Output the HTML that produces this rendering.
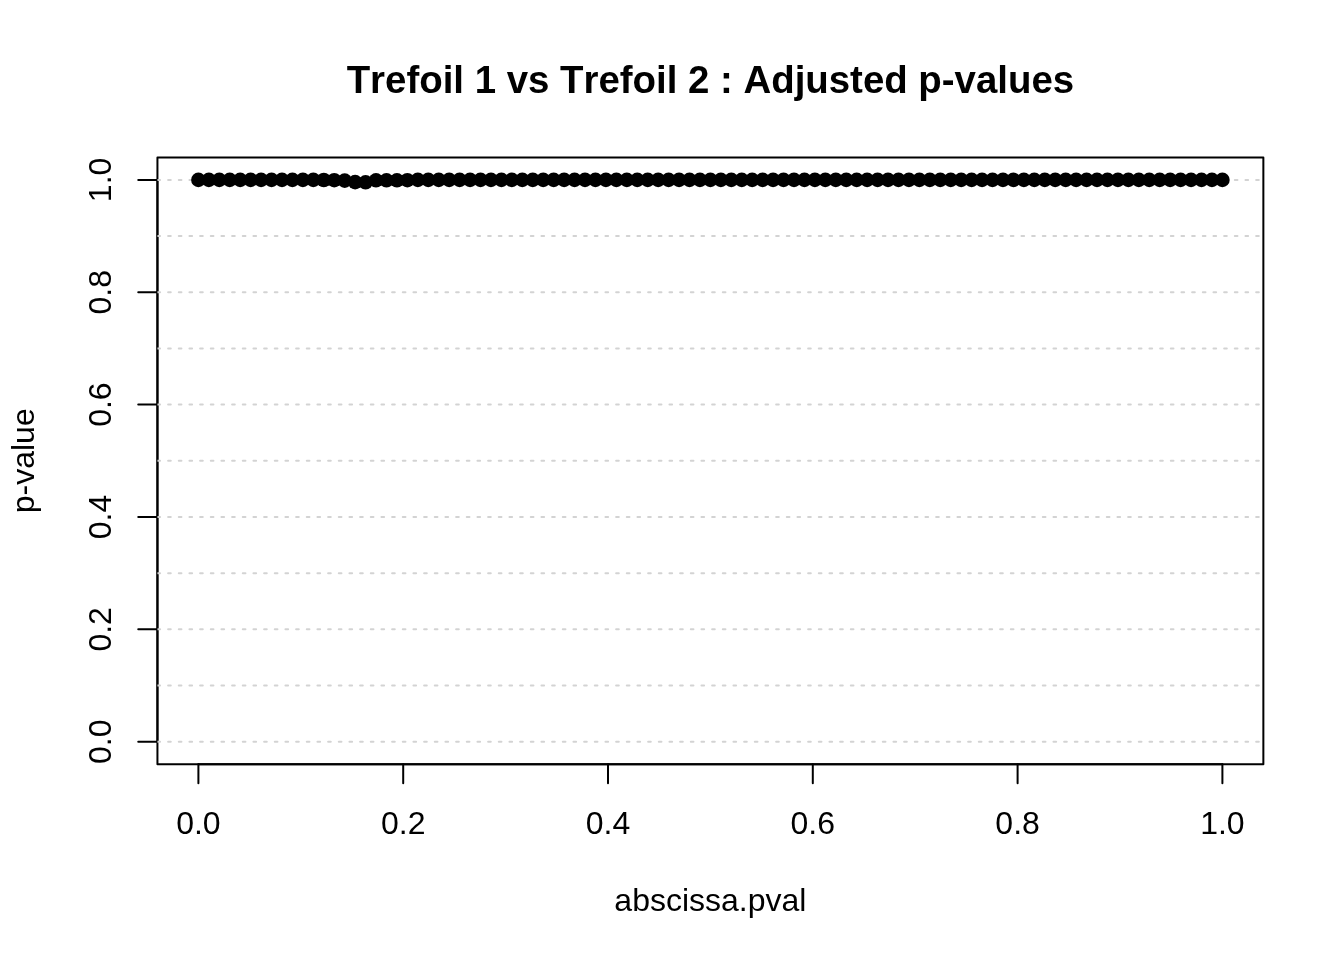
<!DOCTYPE html>
<html lang="en"><head><meta charset="utf-8"><title>Trefoil 1 vs Trefoil 2 : Adjusted p-values</title>
<style>
html,body{margin:0;padding:0;background:#fff;}
body{width:1344px;height:960px;overflow:hidden;}
svg{display:block;}
text{font-kerning:none;font-family:"Liberation Sans",Arial,Helvetica,sans-serif;fill:#000;}
.t{font-size:32px;}
.m{font-size:38.4px;font-weight:bold;}
</style></head><body>
<svg width="1344" height="960" viewBox="0 0 1344 960">
<rect width="1344" height="960" fill="#fff"/>

<g stroke="#000" stroke-width="2" fill="none" stroke-linecap="round" stroke-linejoin="round">
<path d="M198.40 764.16H1222.40"/>
<path d="M198.40 764.16v19.2"/>
<path d="M403.20 764.16v19.2"/>
<path d="M608.00 764.16v19.2"/>
<path d="M812.80 764.16v19.2"/>
<path d="M1017.60 764.16v19.2"/>
<path d="M1222.40 764.16v19.2"/>
<path d="M157.44 741.69V179.91"/>
<path d="M157.44 741.69h-19.2"/>
<path d="M157.44 629.33h-19.2"/>
<path d="M157.44 516.98h-19.2"/>
<path d="M157.44 404.62h-19.2"/>
<path d="M157.44 292.27h-19.2"/>
<path d="M157.44 179.91h-19.2"/>
<rect x="157.44" y="157.44" width="1105.92" height="606.72"/>
</g>
<clipPath id="pr"><rect x="157.44" y="157.44" width="1105.92" height="606.72"/></clipPath><g clip-path="url(#pr)" stroke="#d3d3d3" stroke-width="2" stroke-dasharray="2.667 8" stroke-linecap="round" fill="none">
<line x1="157.44" y1="741.69" x2="1263.36" y2="741.69"/>
<line x1="157.44" y1="685.51" x2="1263.36" y2="685.51"/>
<line x1="157.44" y1="629.33" x2="1263.36" y2="629.33"/>
<line x1="157.44" y1="573.16" x2="1263.36" y2="573.16"/>
<line x1="157.44" y1="516.98" x2="1263.36" y2="516.98"/>
<line x1="157.44" y1="460.80" x2="1263.36" y2="460.80"/>
<line x1="157.44" y1="404.62" x2="1263.36" y2="404.62"/>
<line x1="157.44" y1="348.44" x2="1263.36" y2="348.44"/>
<line x1="157.44" y1="292.27" x2="1263.36" y2="292.27"/>
<line x1="157.44" y1="236.09" x2="1263.36" y2="236.09"/>
<line x1="157.44" y1="179.91" x2="1263.36" y2="179.91"/>
</g>
<g fill="#000">
<circle cx="198.40" cy="179.91" r="7.3"/>
<circle cx="208.85" cy="179.91" r="7.3"/>
<circle cx="219.30" cy="179.91" r="7.3"/>
<circle cx="229.75" cy="179.91" r="7.3"/>
<circle cx="240.20" cy="179.91" r="7.3"/>
<circle cx="250.64" cy="179.91" r="7.3"/>
<circle cx="261.09" cy="179.91" r="7.3"/>
<circle cx="271.54" cy="179.91" r="7.3"/>
<circle cx="281.99" cy="179.91" r="7.3"/>
<circle cx="292.44" cy="179.91" r="7.3"/>
<circle cx="302.89" cy="179.91" r="7.3"/>
<circle cx="313.34" cy="179.91" r="7.3"/>
<circle cx="323.79" cy="180.01" r="7.3"/>
<circle cx="334.24" cy="180.21" r="7.3"/>
<circle cx="344.69" cy="180.61" r="7.3"/>
<circle cx="355.13" cy="182.11" r="7.3"/>
<circle cx="365.58" cy="182.31" r="7.3"/>
<circle cx="376.03" cy="180.31" r="7.3"/>
<circle cx="386.48" cy="180.31" r="7.3"/>
<circle cx="396.93" cy="180.31" r="7.3"/>
<circle cx="407.38" cy="180.21" r="7.3"/>
<circle cx="417.83" cy="179.91" r="7.3"/>
<circle cx="428.28" cy="179.91" r="7.3"/>
<circle cx="438.73" cy="179.91" r="7.3"/>
<circle cx="449.18" cy="179.91" r="7.3"/>
<circle cx="459.62" cy="179.91" r="7.3"/>
<circle cx="470.07" cy="179.91" r="7.3"/>
<circle cx="480.52" cy="179.91" r="7.3"/>
<circle cx="490.97" cy="179.91" r="7.3"/>
<circle cx="501.42" cy="179.91" r="7.3"/>
<circle cx="511.87" cy="179.91" r="7.3"/>
<circle cx="522.32" cy="179.91" r="7.3"/>
<circle cx="532.77" cy="179.91" r="7.3"/>
<circle cx="543.22" cy="179.91" r="7.3"/>
<circle cx="553.67" cy="179.91" r="7.3"/>
<circle cx="564.11" cy="179.91" r="7.3"/>
<circle cx="574.56" cy="179.91" r="7.3"/>
<circle cx="585.01" cy="179.91" r="7.3"/>
<circle cx="595.46" cy="179.91" r="7.3"/>
<circle cx="605.91" cy="179.91" r="7.3"/>
<circle cx="616.36" cy="179.91" r="7.3"/>
<circle cx="626.81" cy="179.91" r="7.3"/>
<circle cx="637.26" cy="179.91" r="7.3"/>
<circle cx="647.71" cy="179.91" r="7.3"/>
<circle cx="658.16" cy="179.91" r="7.3"/>
<circle cx="668.60" cy="179.91" r="7.3"/>
<circle cx="679.05" cy="179.91" r="7.3"/>
<circle cx="689.50" cy="179.91" r="7.3"/>
<circle cx="699.95" cy="179.91" r="7.3"/>
<circle cx="710.40" cy="179.91" r="7.3"/>
<circle cx="720.85" cy="179.91" r="7.3"/>
<circle cx="731.30" cy="179.91" r="7.3"/>
<circle cx="741.75" cy="179.91" r="7.3"/>
<circle cx="752.20" cy="179.91" r="7.3"/>
<circle cx="762.64" cy="179.91" r="7.3"/>
<circle cx="773.09" cy="179.91" r="7.3"/>
<circle cx="783.54" cy="179.91" r="7.3"/>
<circle cx="793.99" cy="179.91" r="7.3"/>
<circle cx="804.44" cy="179.91" r="7.3"/>
<circle cx="814.89" cy="179.91" r="7.3"/>
<circle cx="825.34" cy="179.91" r="7.3"/>
<circle cx="835.79" cy="179.91" r="7.3"/>
<circle cx="846.24" cy="179.91" r="7.3"/>
<circle cx="856.69" cy="179.91" r="7.3"/>
<circle cx="867.13" cy="179.91" r="7.3"/>
<circle cx="877.58" cy="179.91" r="7.3"/>
<circle cx="888.03" cy="179.91" r="7.3"/>
<circle cx="898.48" cy="179.91" r="7.3"/>
<circle cx="908.93" cy="179.91" r="7.3"/>
<circle cx="919.38" cy="179.91" r="7.3"/>
<circle cx="929.83" cy="179.91" r="7.3"/>
<circle cx="940.28" cy="179.91" r="7.3"/>
<circle cx="950.73" cy="179.91" r="7.3"/>
<circle cx="961.18" cy="179.91" r="7.3"/>
<circle cx="971.62" cy="179.91" r="7.3"/>
<circle cx="982.07" cy="179.91" r="7.3"/>
<circle cx="992.52" cy="179.91" r="7.3"/>
<circle cx="1002.97" cy="179.91" r="7.3"/>
<circle cx="1013.42" cy="179.91" r="7.3"/>
<circle cx="1023.87" cy="179.91" r="7.3"/>
<circle cx="1034.32" cy="179.91" r="7.3"/>
<circle cx="1044.77" cy="179.91" r="7.3"/>
<circle cx="1055.22" cy="179.91" r="7.3"/>
<circle cx="1065.67" cy="179.91" r="7.3"/>
<circle cx="1076.11" cy="179.91" r="7.3"/>
<circle cx="1086.56" cy="179.91" r="7.3"/>
<circle cx="1097.01" cy="179.91" r="7.3"/>
<circle cx="1107.46" cy="179.91" r="7.3"/>
<circle cx="1117.91" cy="179.91" r="7.3"/>
<circle cx="1128.36" cy="179.91" r="7.3"/>
<circle cx="1138.81" cy="179.91" r="7.3"/>
<circle cx="1149.26" cy="179.91" r="7.3"/>
<circle cx="1159.71" cy="179.91" r="7.3"/>
<circle cx="1170.16" cy="179.91" r="7.3"/>
<circle cx="1180.60" cy="179.91" r="7.3"/>
<circle cx="1191.05" cy="179.91" r="7.3"/>
<circle cx="1201.50" cy="179.91" r="7.3"/>
<circle cx="1211.95" cy="179.91" r="7.3"/>
<circle cx="1222.40" cy="179.91" r="7.3"/>
</g>
<text class="t" x="198.40" y="833.8" text-anchor="middle">0.0</text>
<text class="t" x="403.20" y="833.8" text-anchor="middle">0.2</text>
<text class="t" x="608.00" y="833.8" text-anchor="middle">0.4</text>
<text class="t" x="812.80" y="833.8" text-anchor="middle">0.6</text>
<text class="t" x="1017.60" y="833.8" text-anchor="middle">0.8</text>
<text class="t" x="1222.40" y="833.8" text-anchor="middle">1.0</text>
<text class="t" transform="translate(111.2 741.69) rotate(-90)" text-anchor="middle">0.0</text>
<text class="t" transform="translate(111.2 629.33) rotate(-90)" text-anchor="middle">0.2</text>
<text class="t" transform="translate(111.2 516.98) rotate(-90)" text-anchor="middle">0.4</text>
<text class="t" transform="translate(111.2 404.62) rotate(-90)" text-anchor="middle">0.6</text>
<text class="t" transform="translate(111.2 292.27) rotate(-90)" text-anchor="middle">0.8</text>
<text class="t" transform="translate(111.2 179.91) rotate(-90)" text-anchor="middle">1.0</text>
<text class="m" x="710.4" y="92.8" text-anchor="middle">Trefoil 1 vs Trefoil 2 : Adjusted p-values</text>
<text class="t" x="710.4" y="910.5" text-anchor="middle">abscissa.pval</text>
<text class="t" transform="translate(34.3 460.8) rotate(-90)" text-anchor="middle">p-value</text>
</svg></body></html>
